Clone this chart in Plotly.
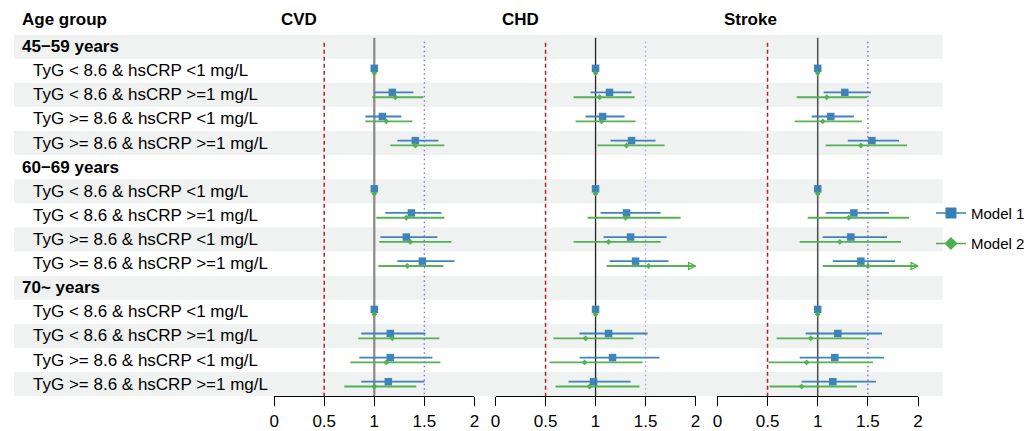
import plotly.graph_objects as go

# The page body adds an 8px margin, so the figure is 8px smaller and all
# screen positions below are converted with that offset.
SCREEN_W, SCREEN_H = 1033, 431
OFF = 8
W, H = SCREEN_W - OFF, SCREEN_H - OFF


def px(x):
    return (x - OFF) / W


def py(y):
    return 1 - (y - OFF) / H


row_labels = [
    "45\u221259 years",
    "TyG < 8.6 & hsCRP <1 mg/L",
    "TyG < 8.6 & hsCRP >=1 mg/L",
    "TyG >= 8.6 & hsCRP <1 mg/L",
    "TyG >= 8.6 & hsCRP >=1 mg/L",
    "60\u221269 years",
    "TyG < 8.6 & hsCRP <1 mg/L",
    "TyG < 8.6 & hsCRP >=1 mg/L",
    "TyG >= 8.6 & hsCRP <1 mg/L",
    "TyG >= 8.6 & hsCRP >=1 mg/L",
    "70~ years",
    "TyG < 8.6 & hsCRP <1 mg/L",
    "TyG < 8.6 & hsCRP >=1 mg/L",
    "TyG >= 8.6 & hsCRP <1 mg/L",
    "TyG >= 8.6 & hsCRP >=1 mg/L",
]
is_header = [True, False, False, False, False, True, False, False, False, False,
             True, False, False, False, False]

outcomes = ["CVD", "CHD", "Stroke"]
models = ["Model 1", "Model 2"]
tick_vals = [0, 0.5, 1, 1.5, 2]
tick_text = ["0", "0.5", "1", "1.5", "2"]

N = None
cvd_m1_est = [N, 1.00, 1.18, 1.08, 1.41, N, 1.00, 1.37, 1.32, 1.48, N, 1.00, 1.16, 1.16, 1.14]
cvd_m1_lo = [N, 1.00, 1.00, 0.91, 1.23, N, 1.00, 1.11, 1.06, 1.23, N, 1.00, 0.87, 0.85, 0.87]
cvd_m1_hi = [N, 1.00, 1.39, 1.27, 1.64, N, 1.00, 1.67, 1.63, 1.80, N, 1.00, 1.51, 1.58, 1.50]
cvd_m2_est = [N, 1.00, 1.21, 1.12, 1.41, N, 1.00, 1.32, 1.36, 1.33, N, 1.00, 1.18, 1.12, 1.00]
cvd_m2_lo = [N, 1.00, 0.98, 0.91, 1.16, N, 1.00, 1.02, 1.05, 1.04, N, 1.00, 0.84, 0.76, 0.70]
cvd_m2_hi = [N, 1.00, 1.49, 1.38, 1.70, N, 1.00, 1.70, 1.77, 1.69, N, 1.00, 1.65, 1.66, 1.42]

chd_m1_est = [N, 1.00, 1.14, 1.07, 1.36, N, 1.00, 1.31, 1.35, 1.40, N, 1.00, 1.13, 1.17, 0.98]
chd_m1_lo = [N, 1.00, 0.95, 0.90, 1.15, N, 1.00, 1.05, 1.08, 1.14, N, 1.00, 0.84, 0.84, 0.73]
chd_m1_hi = [N, 1.00, 1.36, 1.29, 1.60, N, 1.00, 1.65, 1.71, 1.73, N, 1.00, 1.52, 1.64, 1.35]
chd_m2_est = [N, 1.00, 1.04, 1.06, 1.31, N, 1.00, 1.30, 1.13, 1.53, N, 1.00, 0.90, 0.89, 0.94]
chd_m2_lo = [N, 1.00, 0.78, 0.80, 1.02, N, 1.00, 0.92, 0.78, 1.11, N, 1.00, 0.58, 0.54, 0.60]
chd_m2_hi = [N, 1.00, 1.39, 1.40, 1.69, N, 1.00, 1.85, 1.65, 2.10, N, 1.00, 1.38, 1.47, 1.44]

stroke_m1_est = [N, 1.00, 1.27, 1.13, 1.54, N, 1.00, 1.36, 1.33, 1.43, N, 1.00, 1.20, 1.17, 1.15]
stroke_m1_lo = [N, 1.00, 1.06, 0.94, 1.30, N, 1.00, 1.08, 1.05, 1.15, N, 1.00, 0.88, 0.82, 0.84]
stroke_m1_hi = [N, 1.00, 1.53, 1.36, 1.81, N, 1.00, 1.71, 1.69, 1.77, N, 1.00, 1.64, 1.66, 1.58]
stroke_m2_est = [N, 1.00, 1.09, 1.05, 1.43, N, 1.00, 1.31, 1.22, 1.50, N, 1.00, 0.93, 0.89, 0.84]
stroke_m2_lo = [N, 1.00, 0.79, 0.77, 1.08, N, 1.00, 0.90, 0.82, 1.05, N, 1.00, 0.59, 0.51, 0.52]
stroke_m2_hi = [N, 1.00, 1.49, 1.44, 1.89, N, 1.00, 1.91, 1.83, 2.15, N, 1.00, 1.48, 1.55, 1.39]

data = {
    "CVD": [(cvd_m1_est, cvd_m1_lo, cvd_m1_hi), (cvd_m2_est, cvd_m2_lo, cvd_m2_hi)],
    "CHD": [(chd_m1_est, chd_m1_lo, chd_m1_hi), (chd_m2_est, chd_m2_lo, chd_m2_hi)],
    "Stroke": [(stroke_m1_est, stroke_m1_lo, stroke_m1_hi), (stroke_m2_est, stroke_m2_lo, stroke_m2_hi)],
}

BLUE = "#377eb8"
GREEN = "#4daf4a"
FONT = "Liberation Sans, Arial, sans-serif"
XMAX = 2.0

# screen-pixel layout (converted through px / py)
panel_px = [(271.7, 474.0), (495.3, 697.3), (719.3, 922.0)]
top_px, bot_px = 35.0, 402.7
n_rows = len(row_labels)

fig = go.Figure()

model_style = [
    dict(color=BLUE, symbol="square", size=7.5, offset=-0.1),
    dict(color=GREEN, symbol="diamond", size=4.5, offset=0.1),
]

for pi, oc in enumerate(outcomes):
    xa = "x" if pi == 0 else "x%d" % (pi + 1)
    for mi, (est, lo, hi) in enumerate(data[oc]):
        st = model_style[mi]
        ys, xs, plus, minus = [], [], [], []
        arr_y = []
        for r in range(n_rows):
            if est[r] is None:
                continue
            ys.append(r + st["offset"])
            xs.append(est[r])
            h = hi[r]
            if h > XMAX:
                arr_y.append(r + st["offset"])
                h = XMAX
            plus.append(h - est[r])
            minus.append(est[r] - lo[r])
        fig.add_trace(go.Scatter(
            x=xs, y=ys, mode="markers", xaxis=xa, yaxis="y",
            marker=dict(symbol=st["symbol"], size=st["size"], color=st["color"], line=dict(width=0)),
            error_x=dict(type="data", symmetric=False, array=plus, arrayminus=minus,
                         color=st["color"], thickness=1.8, width=0),
            opacity=0.95, showlegend=False, cliponaxis=False, hoverinfo="skip",
        ))
        if arr_y:
            fig.add_trace(go.Scatter(
                x=[XMAX] * len(arr_y), y=arr_y, mode="markers", xaxis=xa, yaxis="y",
                marker=dict(symbol="arrow-right-open", size=7, color=st["color"],
                            line=dict(width=1.3, color=st["color"])),
                showlegend=False, cliponaxis=False, hoverinfo="skip",
            ))

# legend entries
for mi, name in enumerate(models):
    st = model_style[mi]
    fig.add_trace(go.Scatter(
        x=[None], y=[None], mode="lines+markers", name=name, xaxis="x", yaxis="y",
        legendgroup=name,
        marker=dict(symbol=st["symbol"], size=11 if mi == 0 else 10, color=st["color"]),
        line=dict(color=st["color"], width=1.5),
    ))

shapes = []
for r in range(n_rows):
    if r % 2 == 0:
        shapes.append(dict(type="rect", xref="paper", yref="y", x0=px(9), x1=px(946.7),
                           y0=r - 0.5, y1=r + 0.5, fillcolor="#eff2f0", line=dict(width=0),
                           layer="below"))

solid_cols = ["#888888", "#222222", "#555555"]
solid_w = [2.2, 1.3, 1.6]
purple_cols = ["#8b74d6", "#b3a3e0", "#7b62d0"]
for pi in range(3):
    xr = "x" if pi == 0 else "x%d" % (pi + 1)
    shapes.append(dict(type="line", xref=xr, yref="y", x0=1, x1=1, y0=-0.37, y1=n_rows - 0.5,
                       line=dict(color=solid_cols[pi], width=solid_w[pi]), layer="below"))
    shapes.append(dict(type="line", xref=xr, yref="y", x0=0.5, x1=0.5, y0=-0.16, y1=n_rows - 0.5,
                       line=dict(color="#b5201f", width=1.5, dash="4px,3px"), layer="below"))
    shapes.append(dict(type="line", xref=xr, yref="y", x0=1.5, x1=1.5, y0=-0.2, y1=n_rows - 0.5,
                       line=dict(color=purple_cols[pi], width=1.4, dash="1.5px,3px"), layer="below"))

annotations = []
for r, (lab, hdr) in enumerate(zip(row_labels, is_header)):
    annotations.append(dict(
        x=px(15 if hdr else 26), y=r, xref="paper", yref="y", xanchor="left", yanchor="middle",
        text="<b>%s</b>" % lab if hdr else lab, showarrow=False,
        font=dict(family=FONT, size=17, color="black"),
    ))
annotations.append(dict(x=px(15), y=py(20), xref="paper", yref="paper", xanchor="left",
                        yanchor="middle", text="<b>Age group</b>", showarrow=False,
                        font=dict(family=FONT, size=17, color="black")))
for pi, oc in enumerate(outcomes):
    annotations.append(dict(x=px(panel_px[pi][0] + 4.5), y=py(20), xref="paper", yref="paper",
                            xanchor="left", yanchor="middle", text="<b>%s</b>" % oc, showarrow=False,
                            font=dict(family=FONT, size=17, color="black")))

axis_common = dict(range=[0, XMAX], tickvals=tick_vals, ticktext=tick_text, showgrid=False,
                   zeroline=False, showline=True, linecolor="black", linewidth=1.4,
                   ticks="outside", ticklen=9, tickwidth=1.4, tickcolor="black",
                   tickfont=dict(family=FONT, size=17, color="black"), anchor="y", fixedrange=True)

layout = dict(
    width=W, height=H,
    margin=dict(l=0, r=0, t=0, b=0),
    paper_bgcolor="white", plot_bgcolor="rgba(0,0,0,0)",
    yaxis=dict(range=[n_rows - 0.5, -0.5], domain=[py(bot_px), py(top_px)],
               showticklabels=False, showgrid=False, zeroline=False, showline=False,
               ticks="", fixedrange=True),
    shapes=shapes, annotations=annotations,
    legend=dict(x=px(935), y=py(200), xanchor="left", yanchor="top",
                font=dict(family=FONT, size=15, color="black"), traceorder="grouped",
                tracegroupgap=8, bgcolor="rgba(0,0,0,0)"),
    showlegend=True,
)
for pi in range(3):
    key = "xaxis" if pi == 0 else "xaxis%d" % (pi + 1)
    layout[key] = dict(axis_common, domain=[px(panel_px[pi][0]), px(panel_px[pi][1])])

fig.update_layout(**layout)
fig.write_html("out.html")
